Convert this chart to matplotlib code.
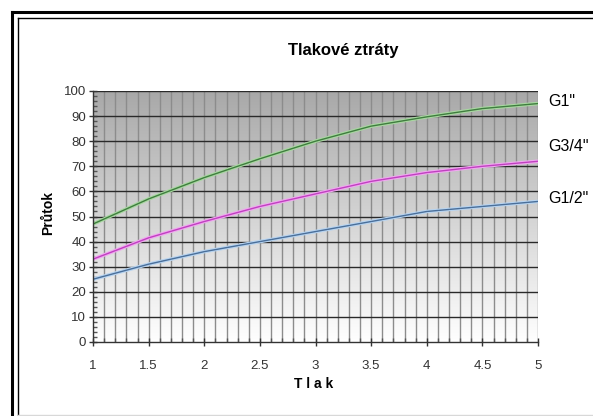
import numpy as np
import matplotlib
matplotlib.use("Agg")
import matplotlib.pyplot as plt
from matplotlib.lines import Line2D
from matplotlib.ticker import MultipleLocator

plt.rcParams['font.family'] = ['Liberation Sans', 'DejaVu Sans']

# Data
tlak = [1, 1.5, 2, 2.5, 3, 3.5, 4, 4.5, 5]
g1 = [47, 57, 65.5, 73, 80, 86, 89.7, 93, 95]
g34 = [33, 41.5, 48, 54, 59, 64, 67.5, 70, 72]
g12 = [25, 31, 36, 40, 44, 48, 52, 54, 56]
series_names = ['G1"', 'G3/4"', 'G1/2"']
title = "Tlakové ztráty"
xlabel = "T l a k"
ylabel = "Průtok"

fig = plt.figure(figsize=(5.93, 4.16), dpi=100)
fig.patch.set_facecolor('white')
ax = fig.add_axes([93/593, 1-342/416, (538-93)/593, (342-91)/416])

# gradient background (dark at top, white at bottom)
grad = np.linspace(0, 1, 256).reshape(-1, 1)
top = np.array([0.66, 0.66, 0.66])
bot = np.array([1.0, 1.0, 1.0])
img = top + (bot - top) * grad
ax.imshow(np.repeat(img[:, None, :], 2, axis=1), extent=[1, 5, 0, 100],
          aspect='auto', zorder=0, origin='upper')

ax.set_xlim(1, 5)
ax.set_ylim(0, 100)

# grid lines
for xv in np.arange(1.1, 5.01, 0.1):
    ax.axvline(xv, color='#8c8c8c', lw=1.0, zorder=1)
for yv in range(10, 101, 10):
    ax.axhline(yv, color='#2a2a2a', lw=1.0, zorder=1)

series = [(g1, '#3f7d3f', '#a8d8a0'), (g34, '#c040c0', '#f0a8f0'), (g12, '#4a6f9a', '#b8d4f0')]
for vals, c, halo in series:
    ax.plot(tlak, vals, color=halo, lw=2.6, zorder=2, solid_capstyle='butt')
    ax.plot(tlak, vals, color=c, lw=1.0, zorder=3)

label_y = [96, 78, 57]
for name, yv in zip(series_names, label_y):
    ax.text(5.09, yv, name, fontsize=11.5, va='center', ha='left', color='black',
            clip_on=False)

ax.xaxis.set_major_locator(MultipleLocator(0.5))
ax.xaxis.set_minor_locator(MultipleLocator(0.1))
ax.yaxis.set_major_locator(MultipleLocator(10))
ax.yaxis.set_minor_locator(MultipleLocator(2))
ax.set_xticks([1, 1.5, 2, 2.5, 3, 3.5, 4, 4.5, 5])
ax.set_xticklabels(['1', '1.5', '2', '2.5', '3', '3.5', '4', '4.5', '5'])
ax.tick_params(axis='both', which='major', direction='inout', length=6, width=1,
               color='#333333', labelsize=9.5, labelcolor='#333333')
ax.tick_params(axis='both', which='minor', direction='in', length=3, width=1,
               color='#555555')
ax.tick_params(axis='x', which='major', pad=10)
ax.tick_params(axis='y', which='major', pad=2)

for s in ['top', 'right']:
    ax.spines[s].set_visible(False)
for s in ['left', 'bottom']:
    ax.spines[s].set_color('#333333')
    ax.spines[s].set_linewidth(1)
    ax.spines[s].set_zorder(4)

fig.text(343/593, 1-50/416, title, fontsize=12, fontweight='bold',
         ha='center', va='center')
fig.text(314/593, 1-384/416, xlabel, fontsize=10, fontweight='bold',
         ha='center', va='center')
fig.text(48/593, 1-213/416, ylabel, fontsize=10, fontweight='bold',
         ha='center', va='center', rotation=90)

# frame
W, H = 593, 416
def fline(xs, ys, lw, color='black'):
    fig.add_artist(Line2D([x/W for x in xs], [1-y/H for y in ys],
                          transform=fig.transFigure, lw=lw, color=color))
fline([11.5, 11.5], [11.5, 416], 2.2)
fline([11.5, 593], [11.5, 11.5], 2.2)
fline([18, 18], [18, 416], 1.0)
fline([18, 593], [18, 18], 1.0)
fline([18, 593], [414.5, 414.5], 1.0, '#d8d8d8')

fig.savefig('out.png', dpi=100)
